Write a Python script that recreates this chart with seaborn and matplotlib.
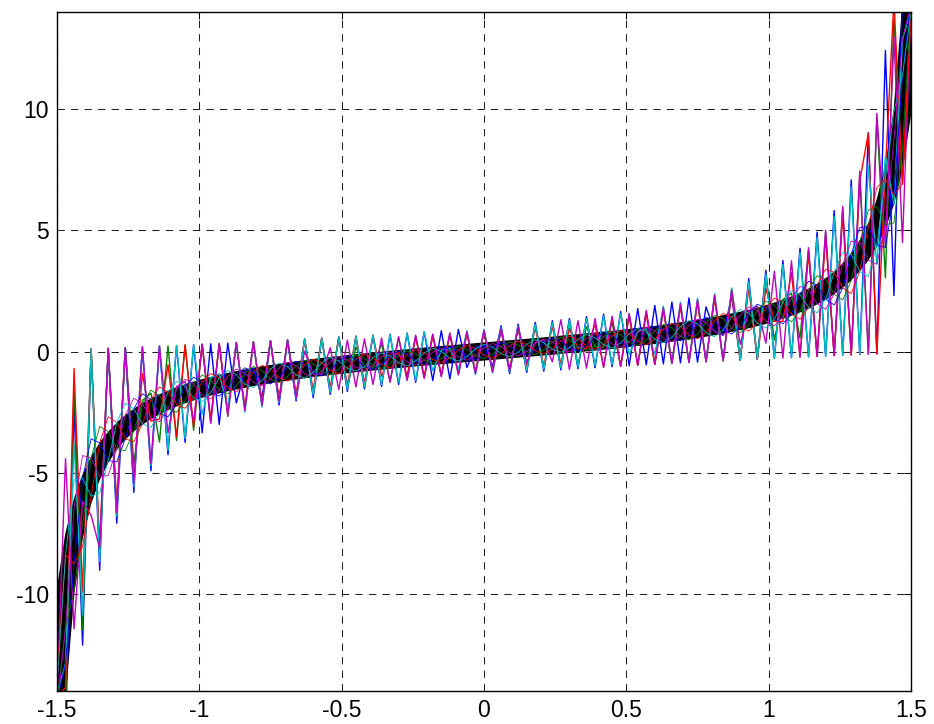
import matplotlib
matplotlib.use("Agg")
import matplotlib.pyplot as plt
import pandas as pd
import seaborn as sns

# sample grid (x) and the reference curve
x_vals = [-1.50, -1.47, -1.44, -1.41, -1.38, -1.35, -1.32, -1.29, -1.26, -1.23,
          -1.20, -1.17, -1.14, -1.11, -1.08, -1.05, -1.02, -0.99, -0.96, -0.93,
          -0.90, -0.87, -0.84, -0.81, -0.78, -0.75, -0.72, -0.69, -0.66, -0.63,
          -0.60, -0.57, -0.54, -0.51, -0.48, -0.45, -0.42, -0.39, -0.36, -0.33,
          -0.30, -0.27, -0.24, -0.21, -0.18, -0.15, -0.12, -0.09, -0.06, -0.03,
          0.00, 0.03, 0.06, 0.09, 0.12, 0.15, 0.18, 0.21, 0.24, 0.27,
          0.30, 0.33, 0.36, 0.39, 0.42, 0.45, 0.48, 0.51, 0.54, 0.57,
          0.60, 0.63, 0.66, 0.69, 0.72, 0.75, 0.78, 0.81, 0.84, 0.87,
          0.90, 0.93, 0.96, 0.99, 1.02, 1.05, 1.08, 1.11, 1.14, 1.17,
          1.20, 1.23, 1.26, 1.29, 1.32, 1.35, 1.38, 1.41, 1.44, 1.47,
          1.50]

curve = [-14.10, -9.89, -7.60, -6.17, -5.18, -4.46, -3.90, -3.47, -3.11, -2.82,
         -2.57, -2.36, -2.18, -2.01, -1.87, -1.74, -1.63, -1.52, -1.43, -1.34,
         -1.26, -1.19, -1.12, -1.05, -0.99, -0.93, -0.88, -0.83, -0.78, -0.73,
         -0.68, -0.64, -0.60, -0.56, -0.52, -0.48, -0.45, -0.41, -0.38, -0.34,
         -0.31, -0.28, -0.24, -0.21, -0.18, -0.15, -0.12, -0.09, -0.06, -0.03,
         0.00, 0.03, 0.06, 0.09, 0.12, 0.15, 0.18, 0.21, 0.24, 0.28,
         0.31, 0.34, 0.38, 0.41, 0.45, 0.48, 0.52, 0.56, 0.60, 0.64,
         0.68, 0.73, 0.78, 0.83, 0.88, 0.93, 0.99, 1.05, 1.12, 1.19,
         1.26, 1.34, 1.43, 1.52, 1.63, 1.74, 1.87, 2.01, 2.18, 2.36,
         2.57, 2.82, 3.11, 3.47, 3.90, 4.46, 5.18, 6.17, 7.60, 9.89,
         14.10]

# noisy runs (large alternating error)
zig_b = [-13.9, -15.85, -2.23, -12.11, 0.10, -9.02, 0.13, -7.08, 0.16, -5.81,
         0.19, -4.92, 0.22, -4.26, 0.25, -3.75, 0.28, -3.35, 0.32, -3.01,
         0.35, -2.12, -0.82, -0.69, -1.91, 0.44, -2.21, 0.47, -2.04, 0.51,
         -1.90, 0.55, -1.77, 0.59, -1.65, 0.63, -1.54, 0.67, -1.44, 0.71,
         -1.36, 0.76, -1.27, 0.81, -1.20, 0.86, -1.13, 0.91, -0.66, 0.17,
         0.25, -0.62, 1.06, -0.91, 1.13, -0.86, 1.20, -0.81, 1.27, -0.76,
         1.36, -0.71, 1.44, -0.67, 1.54, -0.63, 1.65, -0.59, 1.77, -0.55,
         1.90, -0.51, 2.04, -0.47, 2.21, -0.44, 1.84, 0.83, 0.67, 2.28,
         -0.35, 3.01, -0.32, 3.35, -0.28, 3.75, -0.25, 4.26, -0.22, 4.92,
         -0.19, 5.81, -0.16, 7.08, -0.13, 9.02, -0.10, 12.41, 2.31, 14.86,
         14.4]
zig_g = [-14.0, -14.86, -1.46, -11.48, 0.10, -8.34, 0.13, -6.54, 0.16, -4.61,
         -2.02, -1.72, -3.73, 0.23, -3.67, 0.27, -3.25, 0.30, -2.91, 0.33,
         -2.63, 0.37, -2.40, 0.40, -2.19, 0.44, -2.01, 0.47, -1.86, 0.51,
         -1.71, 0.55, -1.59, 0.59, -1.48, 0.19, -0.67, -0.68, 0.32, -1.24,
         0.58, -1.16, 0.64, -1.08, 0.69, -1.01, 0.74, -0.94, 0.79, -0.88,
         0.85, -0.82, 0.91, -0.76, 0.98, -0.71, 1.05, -0.66, 1.12, -0.60,
         1.20, -0.56, 1.02, 0.19, 0.17, 1.20, -0.61, 1.54, -0.57, 1.65,
         -0.53, 1.78, -0.49, 1.94, -0.45, 2.09, -0.42, 2.28, -0.38, 2.51,
         -0.35, 2.76, -0.32, 3.07, 0.48, 2.14, 2.40, 0.55, 4.21, -0.20,
         4.92, -0.17, 5.89, -0.14, 7.33, -0.11, 9.66, 3.04, 13.74, 6.91,
         14.2]
zig_r = [-14.2, -13.87, -0.70, -9.92, 0.10, -8.02, 0.13, -6.29, 0.16, -5.15,
         -0.91, -2.87, -2.78, -0.55, -3.52, 0.27, -3.12, 0.30, -2.79, 0.33,
         -2.52, 0.37, -2.29, 0.40, -2.09, 0.44, -1.92, 0.47, -1.77, 0.51,
         -1.62, 0.55, -1.51, 0.59, -1.40, 0.63, -1.31, 0.67, -1.02, -0.13,
         -0.05, -0.96, 0.56, -1.01, 0.62, -0.94, 0.67, -0.87, 0.72, -0.81,
         0.78, -0.75, 0.84, -0.69, 0.91, -0.64, 0.98, -0.59, 1.04, -0.53,
         0.94, 0.13, 0.11, 1.11, -0.65, 1.35, -0.61, 1.46, -0.57, 1.57,
         -0.53, 1.70, -0.49, 1.84, -0.45, 2.00, -0.42, 2.18, -0.38, 2.40,
         -0.35, 2.64, -0.32, 2.61, 1.25, 1.24, 3.25, -0.23, 4.04, -0.20,
         4.72, -0.17, 5.66, -0.14, 7.04, 9.0, -0.10, 7.42, 14.5, 6.91,
         14.0]
zig_c = [-14.1, -12.87, -3.76, -10.86, 0.10, -8.66, 0.13, -6.79, 0.16, -5.57,
         0.19, -4.72, 0.22, -4.08, 0.25, -3.59, 0.28, -2.61, -1.08, -0.92,
         -2.31, 0.37, -2.50, 0.40, -2.29, 0.44, -2.10, 0.47, -1.95, 0.51,
         -1.79, 0.55, -1.68, 0.59, -1.56, 0.63, -1.46, 0.67, -1.36, 0.71,
         -1.28, 0.76, -1.19, 0.81, -0.79, 0.05, 0.13, -0.74, 0.86, -0.95,
         0.92, -0.89, 0.98, -0.83, 1.05, -0.78, 1.12, -0.73, 1.19, -0.68,
         1.28, -0.64, 1.36, -0.58, 1.46, -0.54, 1.56, -0.13, 0.83, 0.94,
         -0.11, 1.87, -0.49, 2.03, -0.45, 2.19, -0.42, 2.38, -0.38, 2.62,
         -0.35, 2.88, -0.32, 3.19, -0.28, 3.59, -0.25, 4.08, -0.22, 4.72,
         -0.19, 5.57, -0.16, 6.79, -0.13, 7.66, 3.60, 8.05, 6.07, 12.87,
         14.1]
zig_m = [-14.3, -4.42, -11.44, -6.17, -6.76, -8.12, 0.13, -6.65, 0.16, -5.45,
         0.19, -4.61, 0.22, -3.36, -1.45, -1.24, -2.87, 0.30, -2.96, 0.33,
         -2.68, 0.37, -2.44, 0.40, -2.23, 0.44, -2.05, 0.47, -1.90, 0.01,
         -0.92, -0.94, 0.16, -1.57, 0.47, -1.46, 0.52, -1.36, 0.56, -1.27,
         0.61, -1.20, 0.67, -1.11, 0.72, -1.04, 0.77, -0.97, 0.82, -0.91,
         0.88, -0.85, 0.94, -0.79, 1.01, -0.46, 0.38, 0.47, -0.43, 1.31,
         -0.74, 1.27, -0.69, 1.36, -0.65, 1.46, -0.61, 1.57, -0.57, 1.69,
         -0.53, 1.82, -0.49, 1.97, -0.45, 2.14, -0.42, 2.33, -0.38, 2.55,
         0.29, 1.67, 1.87, 0.34, 3.31, -0.27, 3.74, -0.23, 4.28, -0.20,
         5.00, -0.17, 5.99, -0.14, 7.45, -0.11, 9.82, 4.29, 12.97, 4.5,
         14.2]

# noisy runs (small smooth error)
thin_b = [-14.4, -12.87, -8.75, -5.23, -3.60, -3.77, -4.50, -4.55, -3.60, -2.37,
          -1.74, -1.98, -2.54, -2.69, -2.19, -1.44, -1.06, -1.25, -1.69, -1.84,
          -1.50, -0.96, -0.67, -0.83, -1.20, -1.34, -1.08, -0.63, -0.40, -0.54,
          -0.86, -1.00, -0.78, -0.39, -0.18, -0.31, -0.62, -0.73, -0.54, -0.18,
          0.01, -0.12, -0.39, -0.52, -0.33, 0.00, 0.18, 0.06, -0.21, -0.33,
          -0.15, 0.18, 0.36, 0.24, -0.03, -0.15, 0.03, 0.36, 0.55, 0.44,
          0.15, 0.02, 0.22, 0.57, 0.78, 0.65, 0.35, 0.21, 0.42, 0.82,
          1.04, 0.92, 0.59, 0.44, 0.68, 1.14, 1.41, 1.27, 0.89, 0.72,
          1.02, 1.59, 1.95, 1.79, 1.34, 1.14, 1.55, 2.35, 2.90, 2.74,
          2.16, 1.92, 2.62, 4.01, 5.11, 5.15, 4.39, 4.29, 6.45, 11.38,
          14.6]
thin_g = [-14.5, -11.38, -9.90, -7.11, -4.39, -3.09, -3.30, -4.01, -4.09, -3.27,
          -2.16, -1.59, -1.82, -2.35, -2.51, -2.04, -1.34, -0.97, -1.17, -1.59,
          -1.74, -1.42, -0.89, -0.61, -0.78, -1.14, -1.28, -1.03, -0.59, -0.36,
          -0.50, -0.82, -0.95, -0.73, -0.35, -0.15, -0.28, -0.57, -0.70, -0.50,
          -0.15, 0.03, -0.09, -0.36, -0.49, -0.30, 0.03, 0.21, 0.09, -0.18,
          -0.30, -0.12, 0.21, 0.39, 0.27, 0.00, -0.13, 0.06, 0.39, 0.59,
          0.47, 0.18, 0.06, 0.25, 0.62, 0.81, 0.69, 0.39, 0.25, 0.46,
          0.86, 1.10, 0.97, 0.63, 0.48, 0.72, 1.20, 1.49, 1.35, 0.96,
          0.78, 1.09, 1.69, 2.07, 1.92, 1.44, 1.23, 1.67, 2.54, 3.13,
          2.98, 2.37, 2.13, 2.93, 4.50, 5.83, 5.97, 5.23, 5.30, 8.40,
          14.2]
thin_r = [-13.4, -8.40, -8.75, -8.05, -5.97, -3.77, -2.69, -2.93, -3.60, -3.72,
          -2.98, -1.98, -1.46, -1.67, -2.19, -2.34, -1.92, -1.25, -0.91, -1.09,
          -1.50, -1.66, -1.35, -0.83, -0.57, -0.72, -1.08, -1.22, -0.97, -0.54,
          -0.32, -0.46, -0.78, -0.91, -0.69, -0.31, -0.12, -0.25, -0.54, -0.66,
          -0.47, -0.13, 0.07, -0.06, -0.33, -0.45, -0.27, 0.06, 0.24, 0.12,
          -0.15, -0.27, -0.09, 0.24, 0.42, 0.30, 0.03, -0.10, 0.09, 0.44,
          0.63, 0.50, 0.22, 0.09, 0.28, 0.65, 0.86, 0.73, 0.42, 0.28,
          0.50, 0.92, 1.16, 1.03, 0.68, 0.52, 0.78, 1.27, 1.57, 1.42,
          1.02, 0.84, 1.17, 1.79, 2.20, 2.04, 1.55, 1.33, 1.82, 2.74,
          3.40, 3.27, 2.62, 2.39, 3.30, 5.15, 6.76, 7.11, 6.45, 6.91,
          13.8]
thin_c = [-13.8, -8.40, -5.30, -5.23, -5.97, -5.83, -4.50, -2.93, -2.13, -2.37,
          -2.98, -3.13, -2.54, -1.67, -1.23, -1.44, -1.92, -2.07, -1.69, -1.09,
          -0.78, -0.96, -1.35, -1.49, -1.20, -0.72, -0.48, -0.63, -0.97, -1.10,
          -0.86, -0.46, -0.25, -0.39, -0.69, -0.81, -0.62, -0.25, -0.06, -0.18,
          -0.47, -0.59, -0.39, -0.06, 0.13, 0.00, -0.27, -0.39, -0.21, 0.12,
          0.30, 0.18, -0.09, -0.21, -0.03, 0.30, 0.49, 0.36, 0.09, -0.03,
          0.15, 0.50, 0.70, 0.57, 0.28, 0.15, 0.35, 0.73, 0.95, 0.82,
          0.50, 0.36, 0.59, 1.03, 1.28, 1.14, 0.78, 0.61, 0.89, 1.42,
          1.74, 1.59, 1.17, 0.97, 1.34, 2.04, 2.51, 2.35, 1.82, 1.59,
          2.16, 3.27, 4.09, 4.01, 3.30, 3.09, 4.39, 7.11, 9.90, 11.38,
          14.0]
thin_m = [-14.8, -11.38, -6.45, -4.29, -4.39, -5.15, -5.11, -4.01, -2.62, -1.92,
          -2.16, -2.74, -2.90, -2.35, -1.55, -1.14, -1.34, -1.79, -1.95, -1.59,
          -1.02, -0.72, -0.89, -1.27, -1.41, -1.14, -0.68, -0.44, -0.59, -0.92,
          -1.04, -0.82, -0.42, -0.21, -0.35, -0.65, -0.78, -0.57, -0.22, -0.02,
          -0.15, -0.43, -0.55, -0.36, -0.03, 0.15, 0.03, -0.24, -0.36, -0.18,
          0.15, 0.33, 0.21, -0.06, -0.18, 0.00, 0.33, 0.52, 0.39, 0.12,
          -0.01, 0.18, 0.54, 0.73, 0.62, 0.31, 0.18, 0.39, 0.78, 1.00,
          0.86, 0.54, 0.40, 0.63, 1.08, 1.34, 1.20, 0.83, 0.67, 0.96,
          1.50, 1.84, 1.69, 1.25, 1.06, 1.44, 2.19, 2.69, 2.54, 1.98,
          1.74, 2.37, 3.60, 4.55, 4.50, 3.77, 3.60, 5.23, 8.75, 12.87,
          14.3]

series_names = ["b", "g", "r", "c", "m"]
zig_runs = [zig_b, zig_g, zig_r, zig_c, zig_m]
thin_runs = [thin_b, thin_g, thin_r, thin_c, thin_m]
# matlab default colour order
palette = {"b": (0, 0, 1), "g": (0, 0.5, 0), "r": (1, 0, 0),
           "c": (0, 0.75, 0.75), "m": (0.75, 0, 0.75)}

x_ticks = [-1.5, -1, -0.5, 0, 0.5, 1, 1.5]
x_labels = ["-1.5", "-1", "-0.5", "0", "0.5", "1", "1.5"]
y_ticks = [-10, -5, 0, 5, 10]
y_labels = ["-10", "-5", "0", "5", "10"]


def long_form(runs):
    frames = []
    for name, vals in zip(series_names, runs):
        frames.append(pd.DataFrame({"x": x_vals, "y": vals, "series": name}))
    return pd.concat(frames, ignore_index=True)


sns.set_style("white")
plt.rcParams["font.family"] = ["Liberation Sans", "DejaVu Sans"]

fig = plt.figure(figsize=(9.34, 7.24), dpi=100)
ax = fig.add_axes([0.061, 0.0456, 0.9144, 0.9378])

sns.lineplot(x=x_vals, y=curve, color="k", linewidth=13, estimator=None,
             sort=False, solid_joinstyle="round", ax=ax)
sns.lineplot(data=long_form(zig_runs), x="x", y="y", hue="series",
             hue_order=series_names, palette=palette, estimator=None,
             sort=False, linewidth=1.0, legend=False, ax=ax)
sns.lineplot(data=long_form(thin_runs), x="x", y="y", hue="series",
             hue_order=series_names, palette=palette, estimator=None,
             sort=False, linewidth=0.6, legend=False, ax=ax)

ax.set_xlim(-1.5, 1.5)
ax.set_ylim(-14, 14)
ax.set_xticks(x_ticks)
ax.set_xticklabels(x_labels)
ax.set_yticks(y_ticks)
ax.set_yticklabels(y_labels)
ax.set_xlabel("")
ax.set_ylabel("")
ax.tick_params(direction="in", length=5, width=0.75, labelsize=16.5, pad=6,
               colors="k", top=True, right=True, labeltop=False, labelright=False)
ax.grid(True, color="#222222", linestyle=(0, (7, 6)), linewidth=0.75)
for sp in ax.spines.values():
    sp.set_visible(True)
    sp.set_color("k")
    sp.set_linewidth(1.0)

fig.savefig("out.png", dpi=100)
